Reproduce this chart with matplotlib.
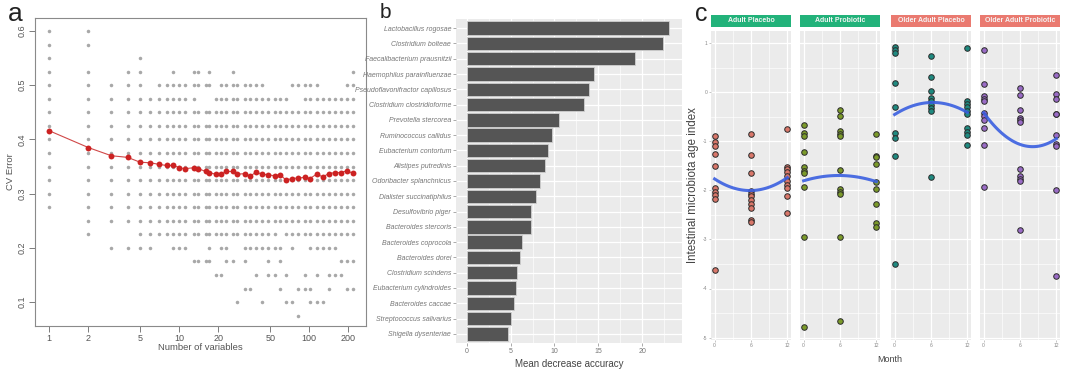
import numpy as np
import matplotlib
matplotlib.use("Agg")
import matplotlib.pyplot as plt
from matplotlib.ticker import FixedLocator, NullLocator, NullFormatter

plt.rcParams['font.family'] = ['Liberation Sans', 'DejaVu Sans']

W, H = 1080, 373

# ---------------- panel a data ----------------
n_vars = [1, 2, 3, 4, 5, 6, 7, 8, 9, 10, 11, 13, 14, 16, 17, 19, 21, 23, 26, 28, 32,
          35, 39, 43, 48, 54, 60, 66, 74, 82, 92, 101, 114, 127, 141, 157, 174, 194, 215]
cv_mean = [0.416, 0.385, 0.370, 0.367, 0.358, 0.357, 0.354, 0.352, 0.352, 0.348, 0.346,
           0.348, 0.346, 0.341, 0.339, 0.336, 0.336, 0.341, 0.341, 0.336, 0.337, 0.332,
           0.340, 0.336, 0.335, 0.333, 0.335, 0.325, 0.328, 0.329, 0.330, 0.328, 0.336,
           0.331, 0.337, 0.339, 0.339, 0.342, 0.338]
# replicate CV errors: for each error level, the numbers of variables that reach it
cv_rows = {
    0.600: [1, 2],
    0.575: [1, 2],
    0.550: [1, 5],
    0.525: [1, 2, 4, 5, 9, 13, 14, 17, 26, 215],
    0.500: [1, 2, 3, 4, 5, 7, 8, 9, 10, 11, 13, 14, 16, 17, 21, 23, 26, 28, 32, 35, 39, 43,
            74, 82, 92, 101, 114, 194, 215],
    0.475: [1, 2, 3, 4, 5, 6, 7, 8, 9, 10, 11, 13, 19, 21, 23, 26, 28, 32, 35, 39, 43, 48,
            54, 60, 66, 92, 101, 114, 127, 141, 157, 174, 194, 215],
    0.450: n_vars, 0.425: n_vars, 0.400: n_vars, 0.375: n_vars, 0.350: n_vars,
    0.325: n_vars, 0.300: n_vars, 0.275: n_vars,
    0.250: n_vars[1:],
    0.225: [2, 5, 6, 7, 8, 9, 10, 11, 13, 14, 16, 17, 19, 21, 23, 26, 28, 32, 35, 39, 43,
            48, 54, 66, 74, 82, 92, 101, 114, 127, 141, 157, 174, 194, 215],
    0.200: [3, 4, 5, 6, 9, 10, 11, 17, 21, 23, 32, 35, 39, 43, 48, 54, 60, 74, 101, 114,
            127, 141, 157],
    0.175: [13, 14, 16, 17, 23, 26, 32, 48, 60, 174, 194, 215],
    0.150: [19, 21, 39, 48, 54, 66, 92, 114, 141, 157, 174],
    0.125: [32, 35, 60, 82, 92, 101, 141, 194, 215],
    0.100: [28, 43, 66, 74, 101, 114, 127],
    0.075: [82],
}
a_xticks = [1, 2, 5, 10, 20, 50, 100, 200]
a_yticks = [0.1, 0.2, 0.3, 0.4, 0.5, 0.6]

# ---------------- panel b data ----------------
species = ["Lactobacillus rogosae", "Clostridium bolteae", "Faecalibacterium prausnitzii",
           "Haemophilus parainfluenzae", "Pseudoflavonifractor capillosus",
           "Clostridium clostridioforme", "Prevotella stercorea", "Ruminococcus callidus",
           "Eubacterium contortum", "Alistipes putredinis", "Odoribacter splanchnicus",
           "Dialister succinatiphilus", "Desulfovibrio piger", "Bacteroides stercoris",
           "Bacteroides coprocola", "Bacteroides dorei", "Clostridium scindens",
           "Eubacterium cylindroides", "Bacteroides caccae", "Streptococcus salivarius",
           "Shigella dysenteriae"]
importance = [23.05, 22.3, 19.2, 14.5, 13.95, 13.4, 10.56, 9.7, 9.3, 8.9, 8.35,
              7.86, 7.3, 7.3, 6.35, 6.1, 5.68, 5.6, 5.38, 5.04, 4.77]
b_xticks = [0, 5, 10, 15, 20]

# ---------------- panel c data ----------------
facet_names = ["Adult Placebo", "Adult Probiotic", "Older Adult Placebo", "Older Adult Probiotic"]
strip_colors = ["#22b27a", "#22b27a", "#ea7a70", "#ea7a70"]
point_colors = ["#d9776a", "#7b9a2a", "#1f8a80", "#9a6cc6"]
months = [0, 6, 12]
adult_placebo = {
    0: [-0.89, -1.02, -1.10, -1.26, -1.51, -1.95, -2.03, -2.10, -2.17, -3.63],
    6: [-0.84, -1.28, -1.64, -2.01, -2.07, -2.12, -2.20, -2.27, -2.35, -2.61, -2.64],
    12: [-0.75, -1.52, -1.56, -1.63, -1.70, -1.80, -1.89, -1.95, -2.12, -2.47],
}
adult_probiotic = {
    0: [-0.67, -0.83, -0.89, -1.21, -1.53, -1.60, -1.65, -1.93, -2.94, -4.79],
    6: [-0.37, -0.48, -0.79, -0.84, -0.89, -1.59, -1.98, -2.04, -2.07, -2.94, -4.67],
    12: [-0.84, -1.29, -1.32, -1.47, -1.82, -1.98, -2.27, -2.66, -2.74],
}
older_placebo = {
    0: [0.92, 0.865, 0.81, 0.19, -0.30, -0.83, -0.94, -1.29, -3.50],
    6: [0.75, 0.32, 0.02, -0.11, -0.18, -0.26, -0.31, -0.38, -1.72],
    12: [0.90, -0.17, -0.23, -0.30, -0.38, -0.45, -0.73, -0.80, -0.87, -1.07],
}
older_probiotic = {
    0: [0.865, 0.16, -0.08, -0.13, -0.18, -0.42, -0.48, -0.56, -0.72, -1.08, -1.93],
    6: [0.08, -0.06, -0.37, -0.53, -0.56, -0.60, -1.56, -1.71, -1.76, -1.80, -2.81],
    12: [0.36, -0.03, -0.13, -0.44, -0.45, -0.87, -1.06, -1.09, -2.00, -3.75],
}
facet_data = [adult_placebo, adult_probiotic, older_placebo, older_probiotic]
c_yticks = [1, 0, -1, -2, -3, -4, -5]


def px(x0, y0, x1, y1):
    return [x0 / W, 1 - y1 / H, (x1 - x0) / W, (y1 - y0) / H]


fig = plt.figure(figsize=(W / 100, H / 100), dpi=100)
fig.patch.set_facecolor("white")

# ================= panel a =================
txt_gray = "#555555"
axa = fig.add_axes(px(35, 18, 366, 326))
for lvl, cols in cv_rows.items():
    axa.scatter(cols, [lvl] * len(cols), s=6.5, color="#a8a8a8", lw=0, zorder=2)
axa.plot(n_vars, cv_mean, color="#d04848", lw=0.8, zorder=3)
axa.scatter(n_vars, cv_mean, s=18, color="#cc2222", lw=0, zorder=4)
axa.set_xscale("log")
axa.set_xlim(0.776, 273)
axa.set_ylim(0.056, 0.624)
axa.xaxis.set_major_locator(FixedLocator(a_xticks))
axa.xaxis.set_minor_locator(NullLocator())
axa.xaxis.set_minor_formatter(NullFormatter())
axa.set_xticklabels([str(t) for t in a_xticks])
axa.yaxis.set_major_locator(FixedLocator(a_yticks))
axa.set_yticklabels([f"{t:.1f}" for t in a_yticks], rotation=90, va="center")
axa.tick_params(axis="both", direction="out", length=4, width=0.6, color="#666666",
                labelsize=6.5, labelcolor=txt_gray, pad=2)
for sp in axa.spines.values():
    sp.set_color("#8a8a8a")
    sp.set_linewidth(0.8)
axa.set_xlabel("Number of variables", fontsize=6.8, color=txt_gray, labelpad=0)
axa.set_ylabel("CV Error", fontsize=6.8, color=txt_gray, labelpad=2)
fig.text(8 / W, 1 - 14 / H, "a", fontsize=19, va="center", ha="left", color="#222222")

# ================= panel b =================
axb = fig.add_axes(px(456, 19, 682, 343))
axb.set_facecolor("#ebebeb")
ypos = np.arange(len(species))[::-1]
axb.barh(ypos, importance, height=0.88, color="#555555", edgecolor="#cfcfcf", lw=0.6, zorder=3)
axb.set_xlim(-1.2, 24.5)
axb.set_ylim(-0.6, len(species) - 0.4)
axb.set_yticks(ypos)
axb.set_yticklabels(species, fontsize=3.3, style="italic", color="#707070")
axb.xaxis.set_major_locator(FixedLocator(b_xticks))
axb.xaxis.set_minor_locator(FixedLocator([2.5, 7.5, 12.5, 17.5, 22.5]))
axb.tick_params(axis="both", which="major", length=2, width=0.5, color="#888888",
                labelsize=5, labelcolor="#777777", pad=1.5)
axb.tick_params(axis="x", which="minor", length=0)
axb.grid(True, which="major", color="white", lw=0.9, zorder=0)
axb.grid(True, which="minor", axis="x", color="white", lw=0.45, zorder=0)
for sp in axb.spines.values():
    sp.set_visible(False)
axb.set_xlabel("Mean decrease accuracy", fontsize=7, color="#444444", labelpad=3)
fig.text(380 / W, 1 - 13 / H, "b", fontsize=15, va="center", ha="left", color="#222222")

# ================= panel c =================
facet_x = [(711, 791), (800, 880), (891, 971), (980, 1060)]
for i, (x0, x1) in enumerate(facet_x):
    ax = fig.add_axes(px(x0, 31, x1, 340))
    ax.set_facecolor("#ebebeb")
    data = facet_data[i]
    allx, ally = [], []
    for m in months:
        vals = data[m]
        ax.scatter([m] * len(vals), vals, s=16, facecolor=point_colors[i],
                   edgecolor="#2a2a2a", lw=0.7, zorder=4)
        allx += [m] * len(vals)
        ally += vals
    coef = np.polyfit(allx, ally, 2)
    xs = np.linspace(0, 12, 60)
    ax.plot(xs, np.polyval(coef, xs), color="#3a5fe0", lw=2.2, alpha=0.9, zorder=5)
    ax.set_xlim(-0.6, 12.6)
    ax.set_ylim(-5.05, 1.25)
    ax.xaxis.set_major_locator(FixedLocator(months))
    ax.xaxis.set_minor_locator(FixedLocator([3, 9]))
    ax.yaxis.set_major_locator(FixedLocator(c_yticks))
    ax.yaxis.set_minor_locator(FixedLocator([0.5, -0.5, -1.5, -2.5, -3.5, -4.5]))
    ax.grid(True, which="major", color="white", lw=0.9, zorder=0)
    ax.grid(True, which="minor", color="white", lw=0.45, zorder=0)
    ax.tick_params(axis="both", which="major", length=1.5, width=0.4, color="#999999",
                   labelsize=3.6, labelcolor="#888888", pad=1)
    ax.tick_params(which="minor", length=0)
    if i == 0:
        ax.set_yticklabels([str(t) for t in c_yticks])
        ax.set_ylabel("Intestinal microbiota age index", fontsize=8.3, color="#444444",
                      labelpad=3)
    else:
        ax.set_yticklabels([])
        ax.tick_params(axis="y", length=0)
    for sp in ax.spines.values():
        sp.set_visible(False)
    sax = fig.add_axes(px(x0, 15, x1, 27))
    sax.set_facecolor(strip_colors[i])
    sax.set_xticks([])
    sax.set_yticks([])
    for sp in sax.spines.values():
        sp.set_visible(False)
    sax.text(0.5, 0.5, facet_names[i], ha="center", va="center", fontsize=5.0,
             fontweight="bold", color="#f4f4f4", transform=sax.transAxes)

fig.text(890 / W, 1 - 359 / H, "Month", fontsize=6.5, color="#444444", ha="center", va="center")
fig.text(695 / W, 1 - 14 / H, "c", fontsize=18, va="center", ha="left", color="#222222")

fig.savefig("out.png", dpi=100)
